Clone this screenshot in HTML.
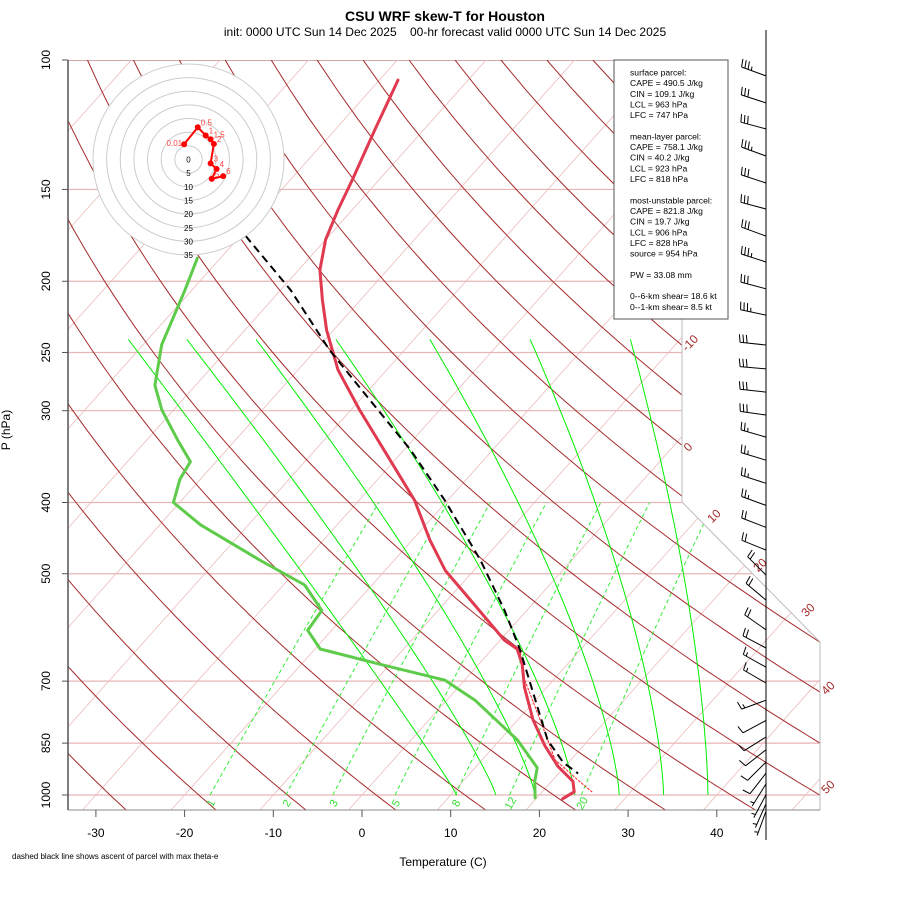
<!DOCTYPE html>
<html><head><meta charset="utf-8"><style>
html,body{margin:0;padding:0;background:#fff;}
svg{display:block;font-family:"Liberation Sans",sans-serif;}
</style></head><body>
<svg id="chart" width="900" height="900" viewBox="0 0 900 900" xmlns="http://www.w3.org/2000/svg">
<defs><clipPath id="plotclip"><polygon points="68,60 682,60 682,502 820,642 820,810 68,810"/></clipPath></defs>
<rect x="0" y="0" width="900" height="900" fill="#fff"/>
<text x="445" y="21" text-anchor="middle" font-size="14" font-weight="bold">CSU WRF skew-T for Houston</text>
<text x="445" y="36" text-anchor="middle" font-size="12">init: 0000 UTC Sun 14 Dec 2025&#160;&#160;&#160;&#160;00-hr forecast valid 0000 UTC Sun 14 Dec 2025</text>
<g id="bg" clip-path="url(#plotclip)"></g>
<g id="frame"></g>
<g id="series"></g>
<g id="hodo"></g>
<g id="winds"></g>
<g id="info"></g>
<text x="10" y="430" transform="rotate(-90 10 430)" text-anchor="middle" font-size="12">P (hPa)</text>
<text x="443" y="866" text-anchor="middle" font-size="12">Temperature (C)</text>
<text x="12" y="859" font-size="8">dashed black line shows ascent of parcel with max theta-e</text>
</svg>
<script>
// ---- data ----
const tempP = [106.5,124.5,145.7,160,175.6,193,212,233,264,299.5,339,397.5,450,495,542,616,633,664,714,790,856,914,958,990,1012];
const tempT = [-67.9,-65.5,-63.0,-61.6,-60.0,-57.6,-54.3,-50.8,-45.5,-39.0,-32.3,-23.7,-18.0,-13.2,-7.5,0.5,2.8,4.9,7.5,11.7,15.6,19.2,22.4,23.6,23.0];
const dewP = [186,205.5,226,244,277,299.5,329,352,372,400,429,479,518,561,597,633,664,698,743,842,918,958,1009];
const dewT = [-72.6,-70.8,-69.2,-67.9,-64.6,-61.3,-56.5,-52.9,-52.3,-50.7,-45.4,-35.2,-27.6,-23.1,-22.7,-19.4,-11.1,-2.2,3.2,12.0,17.0,18.1,19.8];
const parcelP = [173.5,205.5,248.3,290,339,397.5,479,561,633,743,842,903,935];
const parcelT = [-69.4,-58.9,-48.4,-38.9,-29.3,-20.3,-10.3,-2.5,3.1,10.0,15.4,19.4,22.2];
const virtP = [633,698,790,895,946,990];
const virtT = [3.1,6.8,12.5,18.2,22.2,25.6];
const isobars = [100,150,200,250,300,400,500,700,850,1000];
const xTicks = [-30,-20,-10,0,10,20,30,40];
const isothermLabels = [-10,0,10,20,30,40,50];
const mixRatios = [1,2,3,5,8,12,20];
const moistBottomT = [10.7,15.1,19.5,24,29,34,39];
const moistTopT = [-72.2,-65.6,-57.8,-48.8,-38.2,-26.9,-15.6];
const hodoLabels = ['0.01','0.5','1','1.5','2','3','4','5','6'];
const hodoU = [-1.6,3.4,6.3,8.1,9.3,8.1,10.3,8.5,12.7];
const hodoV = [5.6,11.8,8.8,7.4,5.7,-1.4,-3.5,-7.1,-6.1];
const windP = [105.1,114.4,124.1,135.1,147.0,159.5,173.6,188.3,204.8,222.4,244.2,263.2,283.0,304.1,325.9,350.3,376.7,403.6,432.4,464.3,502.1,543,596,631,670,704,743,792,834,868,902,934,966,999,1028,1052];
const windDir = [290,288,285,290,288,285,290,288,285,282,276,275,276,278,286,287,288,290,291,292,315,310,305,298,299,300,250,242,238,232,225,218,212,208,204,200];
const windSpd = [35,30,30,35,30,30,30,35,30,35,30,30,30,30,25,25,25,25,20,20,20,20,20,20,15,15,15,10,10,10,10,10,5,5,5,5];
const infoLines = ['surface parcel:','CAPE = 490.5 J/kg','CIN = 109.1 J/kg','LCL = 963 hPa','LFC = 747 hPa','','mean-layer parcel:','CAPE = 758.1 J/kg','CIN = 40.2 J/kg','LCL = 923 hPa','LFC = 818 hPa','','most-unstable parcel:','CAPE = 821.8 J/kg','CIN = 19.7 J/kg','LCL = 906 hPa','LFC = 828 hPa','source = 954 hPa','','PW =  33.08 mm','','0--6-km shear= 18.6 kt','0--1-km shear= 8.5 kt'];

// ---- axes ----
const NS='http://www.w3.org/2000/svg';
function yOf(p){return 60+319.2*Math.log(p/100);}
function xOf(T,p){return 362+8.87*T+285*Math.log(1000/p);}
function mk(tag,attrs,parent){const e=document.createElementNS(NS,tag);for(const k in attrs)e.setAttribute(k,attrs[k]);parent.appendChild(e);return e;}
function pathD(pts){return pts.map((q,i)=>(i?'L':'M')+q[0].toFixed(1)+','+q[1].toFixed(1)).join(' ');}
const bg=document.getElementById('bg'),frame=document.getElementById('frame'),series=document.getElementById('series');

// isobars
isobars.forEach(p=>{
  const l=mk('line',{x1:68,x2:830,y1:yOf(p),y2:yOf(p),stroke:p===100?'#a05050':'#e8b4b4','stroke-width':p===100?1:1.2},bg);
  
  
});
// isotherms
for(let T=-130;T<=60;T+=10){
  const l=mk('line',{x1:xOf(T,1060),y1:yOf(1060),x2:xOf(T,95),y2:yOf(95),stroke:'#ecbcbc','stroke-width':0.8},bg);
  
  
}
// dry adiabats
for(let th=-38.4;th<=260;th+=10){
  const pts=[];for(let p=1060;p>=95;p-=10){const T=(th+273.15)*Math.pow(p/1000,0.2857)-273.15;pts.push([xOf(T,p),yOf(p)]);}
  const l=mk('path',{d:pathD(pts),fill:'none',stroke:'#a52a2a','stroke-width':1},bg);
  
  
}
// moist adiabats: curve between end temperatures (1000 hPa and 240 hPa)
moistBottomT.forEach((t0,i)=>{
  const xb=xOf(t0,1000),xt=xOf(moistTopT[i],240),yb=yOf(1000),yt=yOf(240);
  const k=1.05+0.55*i/(moistBottomT.length-1);
  const pts=[];
  for(let s=0;s<=60;s++){const f=s/60;pts.push([xb+(xt-xb)*Math.pow(f,k),yb+(yt-yb)*f]);}
  const l=mk('path',{d:pathD(pts),fill:'none',stroke:'#00ee00','stroke-width':1},bg);
  
  
});
// mixing ratio lines
function tdOf(w,p){const e=w*p/(622+w);const a=Math.log(e/6.112);return 243.5*a/(17.67-a);}
mixRatios.forEach(w=>{
  const pts=[];for(let p=1000;p>=400;p-=10)pts.push([xOf(tdOf(w,p),p),yOf(p)]);
  const l=mk('path',{d:pathD(pts),fill:'none',stroke:'#33ee33','stroke-width':1,'stroke-dasharray':'4,3'},bg);
  
  
  const x=xOf(tdOf(w,1000),1000)+4,y=805;
  const t=mk('text',{x:x,y:y,'font-size':11,fill:'#33dd33','text-anchor':'middle',transform:'rotate(-60 '+x+' '+y+')'},frame);
  t.textContent=String(w);
  
  
});
// isotherm labels at right boundary
const lblPos=[[690,343],[688,447],[714,516],[760,565],[808,610],[828,688],[828,787]];
isothermLabels.forEach((v,i)=>{
  const t=mk('text',{x:lblPos[i][0],y:lblPos[i][1]+4,'font-size':12,fill:'#a52a2a','text-anchor':'middle',transform:'rotate(-45 '+lblPos[i][0]+' '+lblPos[i][1]+')'},frame);
  t.textContent=v;
  
  
});
// frame
mk('polyline',{points:'682,60 682,502 820,642 820,810',fill:'none',stroke:'#bbb','stroke-width':1},frame);
mk('line',{x1:68,y1:810,x2:820,y2:810,stroke:'#888','stroke-width':1},frame);
mk('line',{x1:68,y1:60,x2:68,y2:810,stroke:'#555','stroke-width':1.5},frame);
isobars.forEach(p=>{
  const y=yOf(p);
  mk('line',{x1:62,x2:68,y1:y,y2:y,stroke:'#555'},frame);
  const t=mk('text',{x:50,y:y,'font-size':12,'text-anchor':'middle',transform:'rotate(-90 50 '+y+')'},frame);
  t.textContent=p;
  
  
});
xTicks.forEach(T=>{
  const x=xOf(T,1000);
  mk('line',{x1:x,x2:x,y1:810,y2:817,stroke:'#555'},frame);
  const t=mk('text',{x:x,y:837,'font-size':12,'text-anchor':'middle'},frame);
  t.textContent=T;
  
  
});
// series
function line(P,T,attrs,name){
  const pts=P.map((p,i)=>[xOf(T[i],p),yOf(p)]);
  const e=mk('path',Object.assign({d:pathD(pts),fill:'none','stroke-linejoin':'round','stroke-linecap':'round'},attrs),series);
  
  
}
line(virtP,virtT,{stroke:'#ff2020','stroke-width':1,'stroke-dasharray':'2,2'},'virtual-parcel-line');
line(dewP,dewT,{stroke:'#5ecc4a','stroke-width':3},'dewpoint-line');
line(tempP,tempT,{stroke:'#e03a50','stroke-width':3},'temperature-line');
line(parcelP,parcelT,{stroke:'#000','stroke-width':2,'stroke-dasharray':'8,5','stroke-linecap':'butt'},'parcel-ascent-line');

// hodograph
const hodo=document.getElementById('hodo');const hcx=188.5,hcy=159.5,hs=2.73;
mk('circle',{cx:hcx,cy:hcy,r:35*hs,fill:'#fff',stroke:'none'},hodo);
for(let k=5;k<=35;k+=5){mk('circle',{cx:hcx,cy:hcy,r:k*hs,fill:'none',stroke:'#cccccc','stroke-width':1},hodo);}
for(let k=0;k<=35;k+=5){
  const t=mk('text',{x:hcx,y:hcy+k*hs+3,'font-size':8,'text-anchor':'middle'},hodo);
  t.textContent=k;
  
  
}
const hpts=hodoU.map((u,i)=>[hcx+u*hs,hcy-hodoV[i]*hs]);
const hl=mk('path',{d:pathD(hpts),fill:'none',stroke:'#ff0000','stroke-width':2},hodo);


hpts.forEach((q,i)=>{
  const c=mk('circle',{cx:q[0],cy:q[1],r:3,fill:'#ff0000'},hodo);
  
  
  const t=mk('text',{x:q[0]+(i===0?-2:3),y:q[1]+(i===0?2:-2),'font-size':8,fill:'#ff4444','text-anchor':i===0?'end':'start'},hodo);
  t.textContent=hodoLabels[i];
});

// wind barbs
const winds=document.getElementById('winds');
mk('line',{x1:766,y1:30,x2:766,y2:840,stroke:'#000','stroke-width':1},winds);
windP.forEach((p,i)=>{
  const y=yOf(p),d=windDir[i]*Math.PI/180;
  const sx=Math.sin(d),sy=-Math.cos(d),L=26;
  const ex=766+sx*L,ey=y+sy*L;
  let dd='M766,'+y.toFixed(1)+' L'+ex.toFixed(1)+','+ey.toFixed(1);
  const fx=-sy,fy=sx;let spd=windSpd[i],pos=0;
  while(spd>=10){const bx=ex-sx*pos*3.5,by=ey-sy*pos*3.5;dd+=' M'+bx.toFixed(1)+','+by.toFixed(1)+' l'+(fx*8+sx*1.5).toFixed(1)+','+(fy*8+sy*1.5).toFixed(1);spd-=10;pos++;}
  if(spd>=5){if(pos===0)pos=1;const bx=ex-sx*pos*3.5,by=ey-sy*pos*3.5;dd+=' M'+bx.toFixed(1)+','+by.toFixed(1)+' l'+(fx*4+sx*0.8).toFixed(1)+','+(fy*4+sy*0.8).toFixed(1);}
  const b=mk('path',{d:dd,fill:'none',stroke:'#000','stroke-width':1},winds);
  
  
});

// info box
const info=document.getElementById('info');
mk('rect',{x:614,y:60,width:114,height:259,fill:'#fff',stroke:'#555','stroke-width':1},info);
infoLines.forEach((s,i)=>{
  if(!s)return;
  const t=mk('text',{x:630,y:75.5+i*10.65,'font-size':8.6},info);
  t.textContent=s;
  
  
});
</script>
</body></html>
